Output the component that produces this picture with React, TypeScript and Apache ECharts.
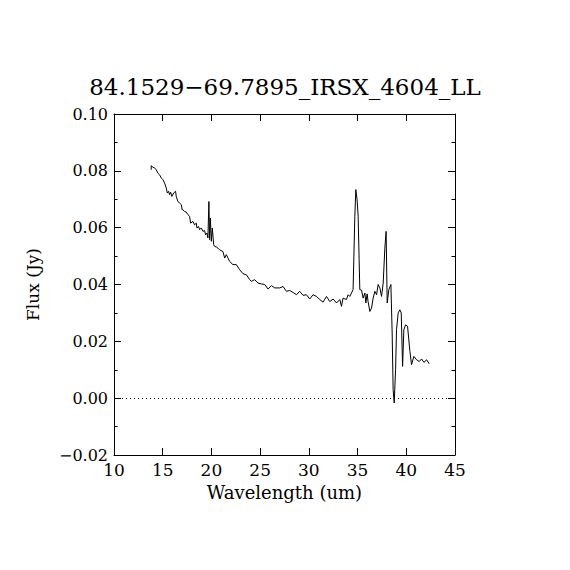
import React, { useEffect, useRef } from "react";
import * as echarts from "echarts";

const TITLE = "84.1529\u221269.7895_IRSX_4604_LL";
const X_NAME = "Wavelength (um)";
const Y_NAME = "Flux (Jy)";

const wavelength = [
  13.82, 13.82, 13.99, 14.16, 14.34, 14.50, 14.68, 14.85, 15.02, 15.19, 15.36, 15.47, 15.60, 15.70,
  15.81, 15.94, 16.12, 16.32, 16.39, 16.56, 16.73, 16.91, 16.99, 17.07, 17.25, 17.42, 17.58, 17.76,
  17.86, 18.10, 18.27, 18.45, 18.51, 18.68, 18.79, 18.96, 19.13, 19.30, 19.40, 19.54, 19.64, 19.74,
  19.81, 19.89, 19.99, 20.09, 20.23, 20.33, 20.50, 20.67,
  20.84, 21.18, 21.36, 21.53, 21.87,
  22.21, 22.56, 22.90, 23.24, 23.59, 23.93, 24.10, 24.44, 24.78, 25.13, 25.47, 25.81, 26.16, 26.50,
  27.01, 27.35, 27.70, 28.04, 28.38, 28.73, 29.06, 29.40, 29.75, 30.09, 30.43, 30.78, 31.12, 31.46,
  31.81, 32.15, 32.49, 32.84, 33.18, 33.35, 33.51, 33.86, 34.03, 34.20, 34.38, 34.54, 34.72, 34.82,
  34.95, 35.06, 35.16, 35.23, 35.41, 35.57, 35.75, 35.85, 35.98, 36.08, 36.26, 36.43, 36.60, 36.77,
  36.95, 37.11, 37.29, 37.46, 37.63, 37.80, 37.93, 38.04, 38.21, 38.42, 38.55, 38.65, 38.76, 38.90,
  39.00, 39.17, 39.34, 39.48, 39.62, 39.75, 39.93, 40.13, 40.37, 40.54, 40.78, 41.06, 41.33, 41.57,
  41.81, 42.09, 42.35,
];

const flux = [
  0.0804, 0.0818, 0.0813, 0.0810, 0.0804, 0.0792, 0.0786, 0.0775, 0.0769, 0.0757, 0.0740, 0.0722, 0.0728, 0.0716,
  0.0725, 0.0710, 0.0722, 0.0728, 0.0710, 0.0692, 0.0687, 0.0681, 0.0663, 0.0663, 0.0657, 0.0655, 0.0646, 0.0640,
  0.0616, 0.0622, 0.0610, 0.0616, 0.0599, 0.0604, 0.0593, 0.0599, 0.0587, 0.0590, 0.0575, 0.0581, 0.0564, 0.0692,
  0.0558, 0.0634, 0.0552, 0.0599, 0.0540, 0.0534, 0.0532, 0.0528,
  0.0522, 0.0516, 0.0493, 0.0505, 0.0481,
  0.0470, 0.0470, 0.0452, 0.0438, 0.0434, 0.0417, 0.0411, 0.0417, 0.0405, 0.0402, 0.0400, 0.0384, 0.0396, 0.0388,
  0.0388, 0.0393, 0.0376, 0.0379, 0.0372, 0.0364, 0.0376, 0.0362, 0.0364, 0.0349, 0.0364, 0.0358, 0.0347, 0.0338,
  0.0358, 0.0340, 0.0349, 0.0335, 0.0347, 0.0323, 0.0352, 0.0347, 0.0364, 0.0358, 0.0370, 0.0382, 0.0640, 0.0734,
  0.0698, 0.0640, 0.0487, 0.0382, 0.0380, 0.0352, 0.0370, 0.0335, 0.0367, 0.0340, 0.0305, 0.0317, 0.0352, 0.0376,
  0.0364, 0.0400, 0.0388, 0.0358, 0.0405, 0.0528, 0.0587, 0.0335, 0.0382, 0.0400, 0.0229, 0.0030, -0.0017, 0.0100,
  0.0241, 0.0300, 0.0311, 0.0300, 0.0112, 0.0241, 0.0258, 0.0253, 0.0165, 0.0118, 0.0147, 0.0135, 0.0129, 0.0138,
  0.0126, 0.0135, 0.0121,
];

const X_MIN = 10;
const X_MAX = 45;
const X_STEP = 5;
const Y_MIN = -0.02;
const Y_MAX = 0.1;
const Y_STEP = 0.02;

const FONT = "DejaVu Serif";

function fmtY(v: number): string {
  const s = Math.abs(v).toFixed(2);
  return v < -1e-9 ? "\u2212" + s : s;
}

export default function App() {
  const ref = useRef<HTMLDivElement>(null);
  useEffect(() => {
    if (!ref.current) return;
    const chart = echarts.init(ref.current, null, { renderer: "svg" });
    const data = wavelength.map((w, i) => [w, flux[i]]);
    const axisLine = { show: true, onZero: false, lineStyle: { color: "#000", width: 1 } };
    const xCommon = {
      type: "value" as const,
      min: X_MIN,
      max: X_MAX,
      interval: X_STEP,
      axisLine,
      axisTick: { show: true, inside: true, length: 7, lineStyle: { color: "#000", width: 1 } },
      splitLine: { show: false },
    };
    const yCommon = {
      type: "value" as const,
      min: Y_MIN,
      max: Y_MAX,
      interval: Y_STEP,
      axisLine,
      axisTick: { show: true, inside: true, length: 7, lineStyle: { color: "#000", width: 1 } },
      minorTick: { show: true, splitNumber: 2, length: 3.5, lineStyle: { color: "#000", width: 1 } },
      splitLine: { show: false },
    };
    chart.setOption({
      animation: false,
      backgroundColor: "#fff",
      title: {
        text: TITLE,
        left: "center",
        top: 70,
        textStyle: { fontFamily: FONT, fontSize: 23, fontWeight: "normal", color: "#000" },
      },
      grid: { left: 114, top: 114, right: 115, bottom: 115, containLabel: false },
      xAxis: [
        {
          ...xCommon,
          position: "bottom",
          name: X_NAME,
          nameLocation: "middle",
          nameGap: 37,
          nameTextStyle: { fontFamily: FONT, fontSize: 18, color: "#000", verticalAlign: "middle" },
          axisLabel: { show: true, margin: 6, fontFamily: FONT, fontSize: 17, color: "#000" },
        },
        {
          ...xCommon,
          position: "top",
          axisLabel: { show: false },
        },
      ],
      yAxis: [
        {
          ...yCommon,
          position: "left",
          name: Y_NAME,
          nameLocation: "middle",
          nameGap: 73,
          nameTextStyle: { fontFamily: FONT, fontSize: 17, color: "#000" },
          axisLabel: { show: true, margin: 6, fontFamily: FONT, fontSize: 16, color: "#000", formatter: fmtY },
        },
        {
          ...yCommon,
          position: "right",
          axisLabel: { show: false },
        },
      ],
      series: [
        {
          type: "line",
          data,
          xAxisIndex: 0,
          yAxisIndex: 0,
          showSymbol: false,
          symbol: "none",
          lineStyle: { color: "#000", width: 1 },
          silent: true,
          markLine: {
            silent: true,
            symbol: ["none", "none"],
            label: { show: false },
            lineStyle: { color: "#000", width: 1, type: [1, 3] },
            data: [{ yAxis: 0 }],
          },
        },
      ],
    });
    return () => chart.dispose();
  }, []);
  return (
    <div
      ref={ref}
      style={{ position: "fixed", left: 0, top: 0, width: 570, height: 570, background: "#fff" }}
    />
  );
}
